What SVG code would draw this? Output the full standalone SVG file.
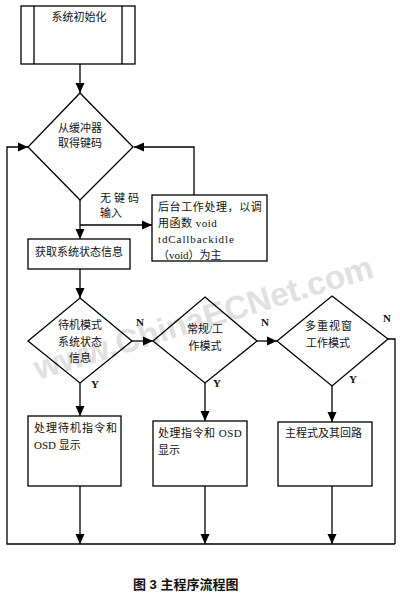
<svg xmlns="http://www.w3.org/2000/svg" width="400" height="596" viewBox="0 0 400 596">
<style>
.s{fill:none;stroke:#000;stroke-width:1.3}
.c{fill:none;stroke:#000;stroke-width:1.3}
.t{font-family:"Liberation Serif","Noto Sans CJK SC",serif;font-size:11px;fill:#111}
.m{text-anchor:middle}
.l{font-family:"Liberation Serif",serif;font-size:11px;font-weight:bold;fill:#111}
.w{font-family:"Liberation Sans",sans-serif;font-size:33px;font-weight:bold;fill:#e0e0e0}
</style>
<defs>
<marker id="a" markerUnits="userSpaceOnUse" markerWidth="10" markerHeight="10" viewBox="0 0 10 10" refX="10" refY="5" orient="auto">
<path d="M0,0.5 L10,5 L0,9.5 z" fill="#000"/>
</marker>
</defs>
<rect width="400" height="596" fill="#fff"/>
<text class="w" transform="translate(38,380) rotate(-17)">www.ChinaECNet.com</text>
<g id="connectors">
<path class="c" d="M80,64 V93" marker-end="url(#a)"/>
<path class="c" d="M80,200 V239" marker-end="url(#a)"/>
<path class="c" d="M80,225 H152" marker-end="url(#a)"/>
<path class="c" d="M194,195 V147 H134" marker-end="url(#a)"/>
<path class="c" d="M395,544 H7 V147 H28" marker-end="url(#a)"/>
<path class="c" d="M80,269 V298" marker-end="url(#a)"/>
<path class="c" d="M132,341 H153" marker-end="url(#a)"/>
<path class="c" d="M257,341 H277" marker-end="url(#a)"/>
<path class="c" d="M388,339 H395 V544"/>
<path class="c" d="M80,383 V416" marker-end="url(#a)"/>
<path class="c" d="M205,383 V421" marker-end="url(#a)"/>
<path class="c" d="M332,386 V422" marker-end="url(#a)"/>
<path class="c" d="M80,486 V544" marker-end="url(#a)"/>
<path class="c" d="M205,486 V544" marker-end="url(#a)"/>
<path class="c" d="M332,486 V544" marker-end="url(#a)"/>
</g>
<g id="init">
<rect class="s" x="21" y="6" width="114" height="58"/>
<path class="c" d="M34,6 V64 M122,6 V64"/>
<text class="t m" x="79" y="21">系统初始化</text>
</g>
<g id="getkey">
<polygon class="s" points="80,93 133,147 80,200 28,147"/>
<text class="t m" x="80" y="132">从缓冲器</text>
<text class="t m" x="80" y="147">取得键码</text>
</g>
<g id="nokey-label">
<text class="t" x="100" y="202" letter-spacing="3">无键码</text>
<text class="t" x="100" y="217">输入</text>
</g>
<g id="background">
<rect class="s" x="152" y="195" width="115" height="66"/>
<text class="t" x="158" y="211" letter-spacing="0.6">后台工作处理，以调</text>
<text class="t" x="158" y="227" letter-spacing="0.5">用函数 void</text>
<text class="t" x="158" y="243" letter-spacing="0.9">tdCallbackidle</text>
<text class="t" x="158" y="259">（void）为主</text>
</g>
<g id="getstate">
<rect class="s" x="28" y="239" width="102" height="30"/>
<text class="t m" x="79" y="256">获取系统状态信息</text>
</g>
<g id="standby">
<polygon class="s" points="80,298 132,341 80,383 28,341"/>
<text class="t m" x="80" y="329">待机模式</text>
<text class="t m" x="80" y="346">系统状态</text>
<text class="t m" x="80" y="362">信息</text>
<text class="l" x="136" y="326">N</text>
<text class="l" x="91" y="388">Y</text>
</g>
<g id="normal">
<polygon class="s" points="205,297 257,341 205,383 153,341"/>
<text class="t m" x="205" y="333">常规/工</text>
<text class="t m" x="205" y="350">作模式</text>
<text class="l" x="261" y="326">N</text>
<text class="l" x="213" y="387">Y</text>
</g>
<g id="multiwin">
<polygon class="s" points="332,296 388,339 332,386 277,341"/>
<text class="t m" x="329" y="330" letter-spacing="1">多重视窗</text>
<text class="t m" x="328" y="347">工作模式</text>
<text class="l" x="383" y="322">N</text>
<text class="l" x="349" y="383">Y</text>
</g>
<g id="boxA">
<rect class="s" x="28" y="416" width="93" height="70"/>
<text class="t" x="34" y="432" letter-spacing="1">处理待机指令和</text>
<text class="t" x="34" y="449">OSD 显示</text>
</g>
<g id="boxB">
<rect class="s" x="153" y="421" width="94" height="65"/>
<text class="t" x="158" y="437" letter-spacing="0.5">处理指令和 OSD</text>
<text class="t" x="158" y="454">显示</text>
</g>
<g id="boxC">
<rect class="s" x="278" y="422" width="94" height="64"/>
<text class="t" x="285" y="437">主程式及其回路</text>
</g>
<g id="caption">
<text x="133" y="589" style="font-family:'Liberation Sans','Noto Sans CJK SC',sans-serif;font-size:13px;font-weight:bold;fill:#111">图 3  主程序流程图</text>
</g>
</svg>
